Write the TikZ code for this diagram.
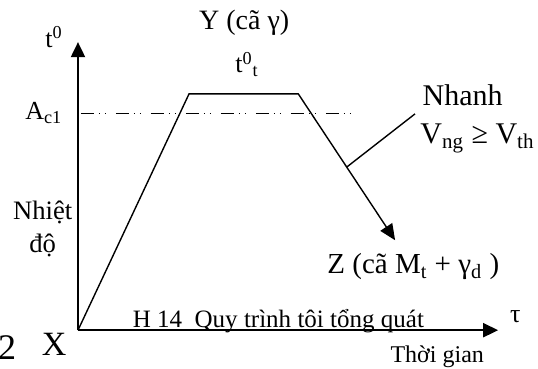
\documentclass[tikz,border=0pt]{standalone}
\usepackage{fontspec}
\setmainfont{Liberation Serif}
\usetikzlibrary{arrows.meta, calc}

\begin{document}
\begin{tikzpicture}[
    font=\fontsize{13pt}{16pt}\selectfont,
    axis/.style={line width=1pt, -{Triangle[length=7.5pt, width=7pt]}},
    curve/.style={line width=0.7pt}
]
\useasboundingbox (-1.37, -0.67) rectangle (8.08, 5.80);

% -------- Axes (temperature up, time to the right) ----------
\coordinate (X) at (0, 0);
\coordinate (ttop) at (0, 5.06);
\coordinate (tend) at (7.38, 0);
\draw[axis] (X) -- (ttop);
\draw[axis] (X) -- (tend);

% -------- Critical line Ac1 (dash-dot-dot) -------------------
\coordinate (ac1a) at (0.05, 3.81);
\coordinate (ac1b) at (4.95, 3.81);
\draw[line width=0.6pt,
      dash pattern=on 6.5pt off 2.5pt on 0.5pt off 2.5pt on 0.5pt off 5pt]
    (ac1a) -- (ac1b);

% -------- Heating, holding, quenching ------------------------
\coordinate (Ya) at (1.95, 4.15);
\coordinate (Yb) at (3.87, 4.15);
\coordinate (Z)  at (5.57, 1.58);
\draw[curve, -{Triangle[length=8pt, width=7pt]}]
    (X) -- (Ya) -- (Yb) -- (Z);
% Leader to the cooling-rate note
\coordinate (lead) at ($(Yb)!0.5!(Z)$);
\coordinate (nh)   at (5.92, 3.80);
\draw[curve] (lead) -- (nh);

% -------- Labels ---------------------------------------------
\node (t0)   at (-0.42, 5.15) {t\textsuperscript{0}};
\node[font=\fontsize{14pt}{17pt}\selectfont] (Ylab) at (2.92, 5.40)
    {Y (cã γ)};
\node (tt)   at (2.97, 4.67) {t\textsuperscript{0}\textsubscript{t}};
\node (Ac1)  at (-0.60, 3.81) {A\textsubscript{c1}};
\node[anchor=west, font=\fontsize{15pt}{18pt}\selectfont] (nhanh)
    at (5.93, 4.12) {Nhanh};
\node[anchor=west, font=\fontsize{15pt}{18pt}\selectfont] (vng)
    at (5.89, 3.37) {V\textsubscript{ng} ≥ V\textsubscript{th}};
\node[align=center, font=\fontsize{13.3pt}{16.5pt}\selectfont] (nhiet)
    at (-0.62, 1.78) {Nhiệt\\độ};
\node[font=\fontsize{17pt}{20pt}\selectfont] (Xlab) at (-0.42, -0.25) {X};
\node[anchor=east, inner sep=0pt, font=\fontsize{18pt}{22pt}\selectfont]
    (two) at (-1.08, -0.30) {2};
\node[anchor=base, font=\fontsize{12.5pt}{15pt}\selectfont] (cap)
    at (3.52, 0.05) {H 14~~Quy trình tôi tổng quát};
\node (tau)  at (7.68, 0.23) {τ};
\node[font=\fontsize{14.5pt}{17pt}\selectfont] (Zlab) at (5.89, 1.11)
    {Z (cã M\textsubscript{t} + γ\textsubscript{d} )};
\node[font=\fontsize{12pt}{14pt}\selectfont] (tg) at (6.31, -0.47)
    {Thời gian};

\end{tikzpicture}
\end{document}
